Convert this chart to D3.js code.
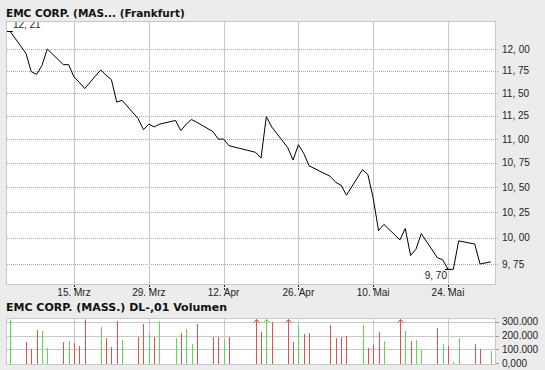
<!DOCTYPE html>
<html>
<head>
<meta charset="utf-8">
<script src="https://cdn.jsdelivr.net/npm/d3@7"></script>
<style>
    body { margin: 0; background: #ececec; }
    svg { display: block; }
    .tick-label { font-family: "Liberation Sans Narrow", "Liberation Sans", Arial, sans-serif; font-size: 10px; fill: #222; }
    .title { font-family: "DejaVu Sans", Verdana, sans-serif; font-weight: bold; font-size: 10.5px; fill: #111; }
</style>
</head>
<body>
<div id="chart"></div>
<script>
// daily closes (EUR, Frankfurt) and volume
let dates = ["2006-03-03", "2006-03-06", "2006-03-07", "2006-03-08", "2006-03-09", "2006-03-10",
    "2006-03-13", "2006-03-14", "2006-03-15", "2006-03-16", "2006-03-17",
    "2006-03-20", "2006-03-21", "2006-03-22", "2006-03-23", "2006-03-24",
    "2006-03-27", "2006-03-28", "2006-03-29", "2006-03-30", "2006-03-31",
    "2006-04-03", "2006-04-04", "2006-04-05", "2006-04-06", "2006-04-07",
    "2006-04-10", "2006-04-11", "2006-04-12", "2006-04-13",
    "2006-04-18", "2006-04-19", "2006-04-20", "2006-04-21",
    "2006-04-24", "2006-04-25", "2006-04-26", "2006-04-27", "2006-04-28",
    "2006-05-02", "2006-05-03", "2006-05-04", "2006-05-05",
    "2006-05-08", "2006-05-09", "2006-05-10", "2006-05-11", "2006-05-12",
    "2006-05-15", "2006-05-16", "2006-05-17", "2006-05-18", "2006-05-19",
    "2006-05-22", "2006-05-23", "2006-05-24", "2006-05-25", "2006-05-26",
    "2006-05-29", "2006-05-30", "2006-06-01"];

let closes = [12.21, 11.95, 11.74, 11.71, 11.81, 12.00,
    11.82, 11.82, 11.68, 11.62, 11.55,
    11.76, 11.70, 11.65, 11.40, 11.42,
    11.22, 11.10, 11.16, 11.13, 11.16,
    11.20, 11.09, 11.16, 11.21, 11.18,
    11.08, 11.00, 11.00, 10.93,
    10.86, 10.80, 11.24, 11.13,
    10.91, 10.78, 10.94, 10.85, 10.72,
    10.61, 10.55, 10.52, 10.42,
    10.68, 10.63, 10.39, 10.07, 10.13,
    9.98, 10.09, 9.83, 9.89, 10.04,
    9.81, 9.79, 9.70, 9.70, 9.97,
    9.94, 9.75, 9.77];

let volumes = [316000, 153000, 103000, 240000, 233000, 110000,
    153000, 160000, 146000, 124000, 316000,
    261000, 182000, 117000, 304000, 168000,
    189000, 283000, 211000, 189000, 304000,
    182000, 218000, 247000, 139000, 283000,
    189000, 189000, 175000, 189000,
    420000, 225000, 450000, 297000,
    400000, 153000, 276000, 211000, 218000,
    276000, 182000, 189000, 196000,
    276000, 110000, 132000, 225000, 160000,
    380000, 233000, 160000, 168000, 96000,
    254000, 139000, 124000, 9000, 182000,
    139000, 103000, 88000];

// u = green bar, d = red bar
let volDir = ["u", "d", "d", "d", "u", "u",
    "d", "u", "d", "d", "d",
    "u", "d", "d", "d", "u",
    "d", "d", "u", "d", "u",
    "u", "d", "u", "u", "d",
    "d", "d", "u", "d",
    "d", "d", "u", "d",
    "d", "d", "u", "d", "d",
    "d", "d", "d", "d",
    "u", "d", "d", "d", "u",
    "d", "u", "d", "u", "u",
    "d", "u", "d", "u", "u",
    "d", "d", "u"];

let xTickDates = ["2006-03-15", "2006-03-29", "2006-04-12", "2006-04-26", "2006-05-10", "2006-05-24"];
let xTickLabels = ["15. Mrz", "29. Mrz", "12. Apr", "26. Apr", "10. Mai", "24. Mai"];
let priceTicks = [9.75, 10, 10.25, 10.5, 10.75, 11, 11.25, 11.5, 11.75, 12];
let volTicks = [0, 100000, 200000, 300000];
let volTickLabels = ["0,000", "100.000", "200.000", "300.000"];

let svgWidth = 545;
let svgHeight = 370;
let plot = { left: 6, right: 495, top: 21, bottom: 284 };
let vbox = { top: 318, bottom: 364 };

let parse = d3.utcParse("%Y-%m-%d");
let data = dates.map((d, i) => ({ date: parse(d), close: closes[i], vol: volumes[i], dir: volDir[i] }));

let x = d3.scaleUtc()
    .domain([parse("2006-03-15"), parse("2006-05-24")])
    .range([74, 448]);
let y = d3.scaleLog()
    .domain([9.75, 12])
    .range([264, 49]);
let yv = d3.scaleLinear()
    .domain([0, 300000])
    .range([363.3, 321.7]);

let px = v => Math.round(v) + 0.5;
let fmtPrice = v => d3.format(".2f")(v).replace(".", ", ");

let svg = d3.select("#chart")
    .append("svg")
    .attr("width", svgWidth)
    .attr("height", svgHeight);

svg.append("rect")
    .attr("width", svgWidth)
    .attr("height", svgHeight)
    .attr("fill", "#ececec");

svg.append("text")
    .attr("class", "title")
    .attr("x", 6)
    .attr("y", 16.5)
    .text("EMC CORP. (MAS... (Frankfurt)");

svg.append("text")
    .attr("class", "title")
    .attr("x", 6)
    .attr("y", 310.5)
    .style("font-size", "11px")
    .text("EMC CORP. (MASS.)  DL-,01 Volumen");

//---------------------------------------------------------------------------------------------
// price panel

svg.append("rect")
    .attr("x", plot.left + 0.5)
    .attr("y", plot.top + 0.5)
    .attr("width", plot.right - plot.left)
    .attr("height", plot.bottom - plot.top)
    .attr("fill", "#fff")
    .attr("stroke", "#c8c8c8");

svg.append("clipPath")
    .attr("id", "clip")
    .append("rect")
    .attr("x", plot.left + 1)
    .attr("y", plot.top + 1)
    .attr("width", plot.right - plot.left - 1)
    .attr("height", plot.bottom - plot.top - 1);

svg.selectAll(".hgrid")
    .data(priceTicks)
    .enter()
    .append("line")
    .attr("class", "hgrid")
    .attr("x1", plot.left + 1)
    .attr("x2", plot.right + 4)
    .attr("y1", d => px(y(d)))
    .attr("y2", d => px(y(d)))
    .attr("stroke", "#aaa")
    .attr("stroke-dasharray", "1,1");

svg.selectAll(".ylabel")
    .data(priceTicks)
    .enter()
    .append("text")
    .attr("class", "tick-label")
    .attr("x", 502)
    .attr("y", d => y(d) + 3.5)
    .text(d => fmtPrice(d));

let tickDates = xTickDates.map(parse);

svg.selectAll(".vgrid")
    .data(tickDates)
    .enter()
    .append("line")
    .attr("class", "vgrid")
    .attr("x1", d => px(x(d)))
    .attr("x2", d => px(x(d)))
    .attr("y1", plot.top + 1)
    .attr("y2", plot.bottom)
    .attr("stroke", "#c8c8c8");

svg.selectAll(".xtick")
    .data(tickDates)
    .enter()
    .append("line")
    .attr("class", "xtick")
    .attr("x1", d => px(x(d)))
    .attr("x2", d => px(x(d)))
    .attr("y1", plot.bottom + 1)
    .attr("y2", plot.bottom + 7)
    .attr("stroke", "#222")
    .attr("stroke-dasharray", "2,1");

svg.selectAll(".xlabel")
    .data(tickDates)
    .enter()
    .append("text")
    .attr("class", "tick-label")
    .attr("x", d => x(d))
    .attr("y", 295.5)
    .attr("text-anchor", "middle")
    .text((d, i) => xTickLabels[i]);

let priceLine = d3.line()
    .x(d => x(d.date))
    .y(d => y(d.close));

let lineG = svg.append("g").attr("clip-path", "url(#clip)");

lineG.append("path")
    .datum(data)
    .attr("d", priceLine)
    .attr("fill", "none")
    .attr("stroke", "#000")
    .attr("stroke-width", 1);

// high / low markers
let hi = data[d3.maxIndex(data, d => d.close)];
let lo = data[d3.minIndex(data, d => d.close)];

[hi, lo].forEach(function (d) {
    lineG.append("line")
        .attr("x1", x(d.date) - 3)
        .attr("x2", x(d.date) + 3)
        .attr("y1", px(y(d.close)))
        .attr("y2", px(y(d.close)))
        .attr("stroke", "#000");
});

lineG.append("text")
    .attr("class", "tick-label")
    .attr("x", x(hi.date) + 3)
    .attr("y", y(hi.close) - 3)
    .text(fmtPrice(hi.close));

lineG.append("text")
    .attr("class", "tick-label")
    .attr("x", x(lo.date) - 1)
    .attr("y", y(lo.close) + 10)
    .attr("text-anchor", "end")
    .text(fmtPrice(lo.close));

//---------------------------------------------------------------------------------------------
// volume panel

svg.append("rect")
    .attr("x", plot.left + 0.5)
    .attr("y", vbox.top + 0.5)
    .attr("width", plot.right - plot.left)
    .attr("height", vbox.bottom - vbox.top)
    .attr("fill", "#fff")
    .attr("stroke", "#c8c8c8");

svg.selectAll(".vhgrid")
    .data(volTicks.slice(1))
    .enter()
    .append("line")
    .attr("x1", plot.left + 1)
    .attr("x2", plot.right)
    .attr("y1", d => px(yv(d)))
    .attr("y2", d => px(yv(d)))
    .attr("stroke", "#c8c8c8");

svg.selectAll(".vvgrid")
    .data(tickDates)
    .enter()
    .append("line")
    .attr("x1", d => px(x(d)))
    .attr("x2", d => px(x(d)))
    .attr("y1", vbox.top + 1)
    .attr("y2", vbox.bottom)
    .attr("stroke", "#c8c8c8");

svg.selectAll(".vtick")
    .data(volTicks)
    .enter()
    .append("line")
    .attr("x1", plot.right + 1)
    .attr("x2", plot.right + 4)
    .attr("y1", d => px(yv(d)))
    .attr("y2", d => px(yv(d)))
    .attr("stroke", "#999");

svg.selectAll(".vlabel")
    .data(volTicks)
    .enter()
    .append("text")
    .attr("class", "tick-label")
    .attr("x", 502)
    .attr("y", d => yv(d) + 3.5)
    .text((d, i) => volTickLabels[i]);

let barTop = vbox.top + 1;
let colour = d => d.dir === "u" ? "#55e04a" : "#e84c4c";

svg.selectAll(".bar")
    .data(data.filter(d => d.vol > 0))
    .enter()
    .append("line")
    .attr("class", "bar")
    .attr("x1", d => px(x(d.date)))
    .attr("x2", d => px(x(d.date)))
    .attr("y1", vbox.bottom)
    .attr("y2", d => Math.max(yv(d.vol), barTop))
    .attr("stroke", colour)
    .attr("stroke-width", 1);

svg.selectAll(".arrow")
    .data(data.filter(d => yv(d.vol) < barTop))
    .enter()
    .append("path")
    .attr("d", d => {
        let cx = px(x(d.date));
        return `M${cx - 3},${barTop + 3.5} L${cx},${barTop + 0.5} L${cx + 3},${barTop + 3.5}`;
    })
    .attr("fill", "none")
    .attr("stroke", colour)
    .attr("stroke-width", 1);
</script>
</body>
</html>
